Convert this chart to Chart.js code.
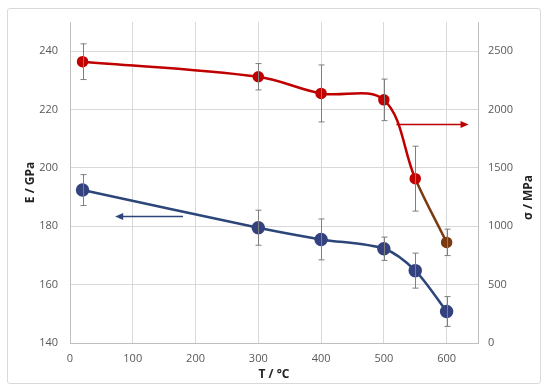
<!DOCTYPE html>
<html lang="en">
  <head>
    <meta charset="UTF-8" />
    <title>E and sigma vs T</title>
    <style>
      html, body { margin: 0; padding: 0; background: #fff; }
      #wrap { position: relative; width: 550px; height: 392px; }
      #frame {
        position: absolute; left: 7px; top: 8px; width: 534px; height: 376px;
        border: 1px solid #d9d9d9; border-radius: 3px; box-sizing: border-box;
      }
    </style>
    <script src="https://cdn.jsdelivr.net/npm/chart.js@4"></script>
  </head>
  <body>
    <div id="wrap">
      <div id="frame"></div>
      <canvas id="myChart" width="550" height="392"></canvas>
    </div>
    <script>
      // temperatures (x)
      var temps = [20, 300, 400, 500, 550, 600];
      // Young's modulus E / GPa (left axis)
      var modulus = [192.4, 179.5, 175.5, 172.3, 164.8, 150.8];
      var modulusErr = [5.3, 6.0, 7.0, 4.0, 6.0, 5.1];
      // strength sigma / MPa (right axis)
      var strength = [2410, 2281, 2138, 2083, 1408, 862];
      var strengthErr = [153, 113, 244, 178, 278, 113];

      var xTicks = [0, 100, 200, 300, 400, 500, 600];
      var leftTicks = [140, 160, 180, 200, 220, 240];
      var rightTicks = [0, 500, 1000, 1500, 2000, 2500];

      // arrows pointing to the axis each curve belongs to: [x1, y1, x2, y2, axis]
      var arrows = [
        [180, 183.5, 72, 183.5, "yE"],
        [520, 1880, 635, 1880, "yS"],
      ];

      var RED = "#c00000";
      var BLUE = "#2c4679";
      var BROWN = "#7b3a12";
      var GRID = "#d9d9d9";
      var TICK = "#595959";

      function toPoints(xs, ys) {
        var out = [];
        for (let i = 0; i < xs.length; i++) out.push({ x: xs[i], y: ys[i] });
        return out;
      }

      var tickFont = { family: "'Open Sans', sans-serif", size: 11 };
      var titleFont = { family: "'Open Sans', sans-serif", size: 12, weight: "bold" };

      var errorBars = {
        id: "errorBars",
        afterDatasetsDraw: function (chart) {
          var ctx = chart.ctx;
          var x = chart.scales.x;
          var sets = [
            [modulus, modulusErr, chart.scales.yE],
            [strength, strengthErr, chart.scales.yS],
          ];
          ctx.save();
          ctx.strokeStyle = "#7f7f7f";
          ctx.lineWidth = 1;
          sets.forEach(function (s) {
            for (let i = 0; i < temps.length; i++) {
              var px = Math.round(x.getPixelForValue(temps[i])) + 0.5;
              var top = s[2].getPixelForValue(s[0][i] + s[1][i]);
              var bot = s[2].getPixelForValue(s[0][i] - s[1][i]);
              ctx.beginPath();
              ctx.moveTo(px, top); ctx.lineTo(px, bot);
              ctx.moveTo(px - 3, top); ctx.lineTo(px + 3, top);
              ctx.moveTo(px - 3, bot); ctx.lineTo(px + 3, bot);
              ctx.stroke();
            }
          });
          ctx.restore();
        },
        afterDraw: function (chart) {
          var ctx = chart.ctx;
          var x = chart.scales.x;
          ctx.save();
          arrows.forEach(function (a) {
            var y = chart.scales[a[4]];
            var x1 = x.getPixelForValue(a[0]), x2 = x.getPixelForValue(a[2]);
            var py = Math.round(y.getPixelForValue(a[1])) + 0.5;
            var col = a[4] === "yE" ? BLUE : RED;
            var dir = x2 > x1 ? 1 : -1;
            ctx.strokeStyle = col;
            ctx.fillStyle = col;
            ctx.lineWidth = 1.5;
            ctx.beginPath();
            ctx.moveTo(x1, py); ctx.lineTo(x2 - dir * 6, py);
            ctx.stroke();
            ctx.beginPath();
            ctx.moveTo(x2, py);
            ctx.lineTo(x2 - dir * 8, py - 3.5);
            ctx.lineTo(x2 - dir * 8, py + 3.5);
            ctx.closePath();
            ctx.fill();
          });
          // right axis title reads bottom-to-top like the left one
          var yS = chart.scales.yS;
          ctx.translate(yS.right - 13, (chart.chartArea.top + chart.chartArea.bottom) / 2 + 15);
          ctx.rotate(-Math.PI / 2);
          ctx.fillStyle = "#222";
          ctx.font = "bold 12px 'Open Sans', sans-serif";
          ctx.textAlign = "center";
          ctx.textBaseline = "middle";
          ctx.fillText("σ / MPa", 0, 0);
          ctx.restore();
        },
      };

      var ctx = document.getElementById("myChart").getContext("2d");
      var myChart = new Chart(ctx, {
        type: "line",
        data: {
          datasets: [
            {
              label: "sigma",
              data: toPoints(temps, strength),
              yAxisID: "yS",
              borderColor: RED,
              borderWidth: 2.5,
              tension: 0.35,
              pointRadius: 4.5,
              pointBackgroundColor: [RED, RED, RED, RED, RED, BROWN],
              pointBorderColor: [RED, RED, RED, RED, RED, BROWN],
              segment: {
                borderColor: function (c) { return c.p1DataIndex === temps.length - 1 ? BROWN : RED; },
              },
            },
            {
              label: "E",
              data: toPoints(temps, modulus),
              yAxisID: "yE",
              borderColor: BLUE,
              borderWidth: 2.5,
              tension: 0.3,
              pointRadius: 5.5,
              pointBackgroundColor: "#34427f",
              pointBorderColor: "#34427f",
            },
          ],
        },
        options: {
          responsive: false,
          animation: false,
          layout: { padding: { left: 8, right: 8, top: 22, bottom: 8 } },
          plugins: { legend: { display: false }, tooltip: { enabled: false } },
          scales: {
            x: {
              type: "linear",
              min: 0,
              max: 650,
              afterBuildTicks: function (s) { s.ticks = xTicks.map(function (v) { return { value: v }; }); },
              afterFit: function (s) { s.height = 41; },
              grid: { color: GRID, drawTicks: false },
              border: { color: "#bfbfbf" },
              ticks: { color: TICK, font: tickFont, padding: 9, callback: function (v) { return String(v); } },
              title: { display: true, text: "T / °C", color: "#222", font: titleFont, padding: { top: 0, bottom: 2 } },
            },
            yE: {
              position: "left",
              min: 140,
              max: 250,
              afterBuildTicks: function (s) { s.ticks = leftTicks.map(function (v) { return { value: v }; }); },
              afterFit: function (s) { s.width = 62; },
              grid: { color: GRID, drawTicks: false },
              border: { color: "#bfbfbf" },
              ticks: { color: TICK, font: tickFont, padding: 12, callback: function (v) { return String(v); } },
              title: { display: true, text: "E / GPa", color: "#222", font: titleFont, padding: { top: 15, bottom: 0 } },
            },
            yS: {
              position: "right",
              min: 0,
              max: 2750,
              afterBuildTicks: function (s) { s.ticks = rightTicks.map(function (v) { return { value: v }; }); },
              afterFit: function (s) { s.width = 64; },
              grid: { drawOnChartArea: false, drawTicks: false },
              border: { color: "#bfbfbf" },
              ticks: { color: TICK, font: tickFont, padding: 10, callback: function (v) { return String(v); } },
            },
          },
        },
        plugins: [errorBars],
      });
    </script>
  </body>
</html>
